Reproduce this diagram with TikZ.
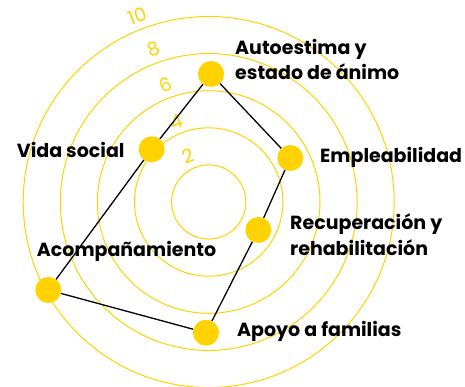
\documentclass[tikz,border=0pt]{standalone}
\usepackage{fontspec}
\setmainfont{Poppins}
\definecolor{gold}{RGB}{255,210,0}
\begin{document}
\begin{tikzpicture}[x=1pt,y=-1pt,
  ring/.style={draw=gold,line width=1pt},
  dot/.style={circle,fill=gold,minimum size=26pt,inner sep=0pt},
  link/.style={draw=black,line width=1.3pt},
  lab/.style={font=\fontsize{19}{25.7}\selectfont\bfseries,anchor=base west,inner sep=0pt,align=left},
  num/.style={font=\fontsize{19}{19}\selectfont,text=gold,rotate=21,inner sep=0pt}]
\useasboundingbox (0,0) rectangle (465,387);
\coordinate (c) at (208.7,202);
\foreach \k in {1,...,5} {\draw[ring] (c) circle[radius=37.1*\k];}
\node[num] (n2) at (188.3,156) {2};
\node[num] (n4) at (176.7,121.7) {4};
\node[num] (n6) at (166,85) {6};
\node[num] (n8) at (153.3,49.3) {8};
\node[num] (n10) at (137.3,16) {10};
\node[dot] (aut) at (211,74) {};
\node[dot] (emp) at (290.3,158) {};
\node[dot] (rec) at (258.3,230) {};
\node[dot] (apo) at (206,332.7) {};
\node[dot] (aco) at (48.3,290) {};
\node[dot] (vid) at (151.7,149.3) {};
\draw[link] (aut) -- (emp) -- (rec) -- (apo) -- (aco) -- (vid) -- (aut);
\node[lab] (taut) at (235,80) {Autoestima y\\estado de ánimo};
\node[lab] (temp) at (320,162.7) {Empleabilidad};
\node[lab] (trec) at (290,255) {Recuperación y\\rehabilitación};
\node[lab] (tapo) at (237,336) {Apoyo a familias};
\node[lab] (taco) at (36.7,256.7) {Acompañamiento};
\node[lab] (tvid) at (16.7,157.3) {Vida social};
\end{tikzpicture}
\end{document}
